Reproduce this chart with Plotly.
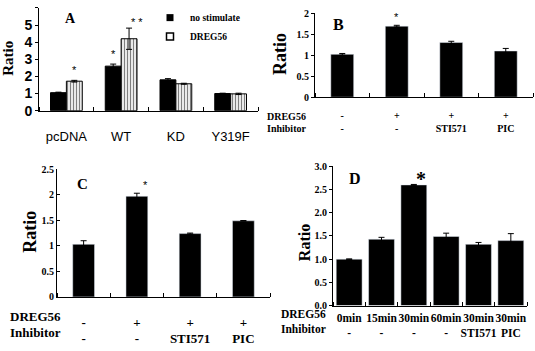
import plotly.graph_objects as go

W, H = 535, 351

# ---------------- data ----------------
# Panel A
a_categories = ["pcDNA", "WT", "KD", "Y319F"]
a_no_stim = [1.05, 2.60, 1.80, 1.00]
a_no_stim_err = [0.03, 0.12, 0.07, 0.02]
a_dreg56 = [1.72, 4.20, 1.57, 0.98]
a_dreg56_err = [0.05, 0.62, 0.03, 0.04]
a_yticks = [0, 1, 2, 3, 4, 5, 6]
a_series_names = ["no stimulate", "DREG56"]

# Panel B
b_dreg = ["-", "+", "+", "+"]
b_inhib = ["-", "-", "STI571", "PIC"]
b_values = [1.02, 1.69, 1.30, 1.10]
b_err = [0.02, 0.02, 0.03, 0.06]
b_yticks = [0, 0.5, 1, 1.5, 2]

# Panel C
c_dreg = ["-", "+", "+", "+"]
c_inhib = ["-", "-", "STI571", "PIC"]
c_values = [1.03, 1.97, 1.24, 1.49]
c_err = [0.07, 0.06, 0.01, 0.005]
c_yticks = [0, 0.5, 1, 1.5, 2, 2.5]

# Panel D
d_dreg = ["0min", "15min", "30min", "60min", "30min", "30min"]
d_inhib = ["-", "-", "-", "-", "STI571", "PIC"]
d_values = [1.00, 1.43, 2.60, 1.49, 1.32, 1.40]
d_err = [0.005, 0.04, 0.01, 0.07, 0.04, 0.15]
d_yticks = [0, 0.5, 1.0, 1.5, 2.0, 2.5, 3.0]

SERIF = "Liberation Serif"
SANS = "Liberation Sans"


def px(x):
    return x / W


def py(y):
    return 1 - y / H


fig = go.Figure()

err_style = dict(type="data", color="black", thickness=1, width=3, visible=True)

# Panel A bars
xa = list(range(len(a_categories)))
fig.add_trace(go.Bar(x=xa, y=a_no_stim, name=a_series_names[0], xaxis="x", yaxis="y",
                     marker=dict(color="black", line=dict(color="black", width=1)),
                     error_y=dict(array=a_no_stim_err, **err_style), showlegend=False,
                     legendgroup="ns"))
fig.add_trace(go.Bar(x=xa, y=a_dreg56, name=a_series_names[1], xaxis="x", yaxis="y",
                     marker=dict(color="white", line=dict(color="black", width=1),
                                 pattern=dict(shape="|", fgcolor="black", bgcolor="white",
                                              size=3, solidity=0.45)),
                     error_y=dict(array=a_dreg56_err, **err_style), showlegend=False,
                     legendgroup="dr"))
# small legend keys (legend entries only, no data drawn)
fig.add_trace(go.Scatter(x=[None], y=[None], mode="markers", name=a_series_names[0],
                         xaxis="x", yaxis="y", legendgroup="ns",
                         marker=dict(symbol="square", size=7, color="black")))
fig.add_trace(go.Scatter(x=[None], y=[None], mode="markers", name=a_series_names[1],
                         xaxis="x", yaxis="y", legendgroup="dr",
                         marker=dict(symbol="square-open", size=7, color="black",
                                     line=dict(width=1.5))))

# Panel B
xb = list(range(len(b_values)))
fig.add_trace(go.Bar(x=xb, y=b_values, xaxis="x2", yaxis="y2", width=0.42,
                     marker=dict(color="black"), showlegend=False,
                     error_y=dict(array=b_err, **err_style)))
# Panel C
xc = list(range(len(c_values)))
fig.add_trace(go.Bar(x=xc, y=c_values, xaxis="x3", yaxis="y3", width=0.41,
                     marker=dict(color="black"), showlegend=False,
                     error_y=dict(array=c_err, **err_style)))
# Panel D
xd = list(range(len(d_values)))
fig.add_trace(go.Bar(x=xd, y=d_values, xaxis="x4", yaxis="y4", width=0.8,
                     marker=dict(color="black"), showlegend=False,
                     error_y=dict(array=d_err, **err_style)))

axis_common = dict(showline=True, linecolor="black", linewidth=1, showgrid=False,
                   zeroline=False, mirror=False)


def xaxis_cfg(anchor, domain, n, ticktext, font, standoff):
    return dict(anchor=anchor, domain=domain, range=[-0.5, n - 0.5], tickmode="array",
                tickvals=list(range(n)), ticktext=ticktext, ticks="", tickangle=0,
                tickfont=font, ticklabelstandoff=standoff,
                minor=dict(tickmode="linear", tick0=0.5, dtick=1, ticks="inside",
                           ticklen=4, tickcolor="black", tickwidth=1),
                **axis_common)


def yaxis_cfg(anchor, domain, rng, tickvals, font, fmt=None, ticks="outside"):
    d = dict(anchor=anchor, domain=domain, range=rng, tickmode="array", tickvals=tickvals,
             ticks=ticks, ticklen=3, tickcolor="black", tickfont=font, **axis_common)
    if fmt:
        d["tickformat"] = fmt
    return d


fontA_y = dict(family=SANS, size=14, color="black", weight="bold")
fontA_x = dict(family=SANS, size=13, color="black")
font_tick_small = dict(family=SERIF, size=10, color="black", weight="bold")

fig.update_layout(
    width=W, height=H, margin=dict(l=0, r=0, t=0, b=0),
    paper_bgcolor="white", plot_bgcolor="white",
    barmode="group", bargap=0.42, bargroupgap=0,
    xaxis=xaxis_cfg("y", [px(39), px(258)], 4, a_categories, fontA_x, 14),
    yaxis=yaxis_cfg("x", [py(109), py(2)], [0, 6], a_yticks, fontA_y),
    xaxis2=xaxis_cfg("y2", [px(315), px(533)], 4,
                     [f"{d}<br>{i}" for d, i in zip(b_dreg, b_inhib)],
                     dict(family=SERIF, size=10, color="black", weight="bold"), 9),
    yaxis2=yaxis_cfg("x2", [py(95), py(7.4)], [0, 2], b_yticks, font_tick_small),
    xaxis3=xaxis_cfg("y3", [px(57), px(270)], 4,
                     [f"{d}<br>{i}" for d, i in zip(c_dreg, c_inhib)],
                     dict(family=SERIF, size=13, color="black", weight="bold"), 13),
    yaxis3=yaxis_cfg("x3", [py(303), py(170)], [0, 2.5], c_yticks, font_tick_small,
                     ticks="inside"),
    xaxis4=xaxis_cfg("y4", [px(333), px(527)], 6,
                     [f"{d}<br>{i}" for d, i in zip(d_dreg, d_inhib)],
                     dict(family=SERIF, size=11.5, color="black", weight="bold"), 2),
    yaxis4=yaxis_cfg("x4", [py(312), py(167)], [0, 3], d_yticks, font_tick_small, fmt=".1f"),
    legend=dict(x=px(150), y=py(-3), xanchor="left", yanchor="top",
                font=dict(family=SERIF, size=9.5, color="black", weight="bold"),
                bgcolor="rgba(0,0,0,0)", itemwidth=30, tracegroupgap=0),
)

ann = []
# Ratio titles
for (x, y, s) in [(8, 55, 15), (280, 50, 18), (30, 235, 18), (304, 247, 16)]:
    ann.append(dict(text="Ratio", x=px(x), y=py(y), xref="paper", yref="paper",
                    showarrow=False, textangle=-90, xanchor="center", yanchor="middle",
                    font=dict(family=SERIF, size=s, color="black", weight="bold")))
# Panel letters
for (t, x, y, s) in [("A", 70, 13, 14), ("B", 338, 19, 16), ("C", 82, 185, 15), ("D", 355, 180, 16)]:
    ann.append(dict(text=t, x=px(x), y=py(y), xref="paper", yref="paper", showarrow=False,
                    xanchor="center", yanchor="middle",
                    font=dict(family=SERIF, size=s, color="black", weight="bold")))
# Row headers
for (t, x, y, s) in [("DREG56", 308, 115, 10), ("Inhibitor", 308, 128, 10),
                     ("DREG56", 63, 323, 13), ("Inhibitor", 63, 340, 13),
                     ("DREG56", 328, 321, 11.5), ("Inhibitor", 328, 336, 11.5)]:
    ann.append(dict(text=t, x=px(x), y=py(y), xref="paper", yref="paper", showarrow=False,
                    xanchor="right", yanchor="middle",
                    font=dict(family=SERIF, size=s, color="black", weight="bold")))

# Significance stars (anchored to bars via data coordinates)
half = (1 - 0.42) / 4
star_font = dict(family=SANS, size=11, color="black")
ann.append(dict(text="*", x=xa[0] + half, y=a_dreg56[0] + a_dreg56_err[0], xref="x", yref="y",
                showarrow=False, yanchor="bottom", yshift=2, font=star_font))
ann.append(dict(text="*", x=xa[1] - half, y=a_no_stim[1] + a_no_stim_err[1], xref="x", yref="y",
                showarrow=False, yanchor="bottom", yshift=2, font=star_font))
ann.append(dict(text="* *", x=xa[1] + half, y=a_dreg56[1] + a_dreg56_err[1], xref="x", yref="y",
                showarrow=False, yanchor="middle", xshift=8, yshift=6, font=star_font))
ann.append(dict(text="*", x=xb[1], y=b_values[1] + b_err[1], xref="x2", yref="y2",
                showarrow=False, yanchor="bottom", yshift=0, font=star_font))
ann.append(dict(text="*", x=xc[1], y=c_values[1] + c_err[1], xref="x3", yref="y3",
                showarrow=False, yanchor="bottom", xshift=9, yshift=0, font=star_font))
ann.append(dict(text="*", x=xd[2], y=d_values[2] + d_err[2], xref="x4", yref="y4",
                showarrow=False, yanchor="bottom", xshift=7, yshift=-8,
                font=dict(family=SERIF, size=20, color="black", weight="bold")))

fig.update_layout(annotations=ann)
fig.write_html("out.html")
